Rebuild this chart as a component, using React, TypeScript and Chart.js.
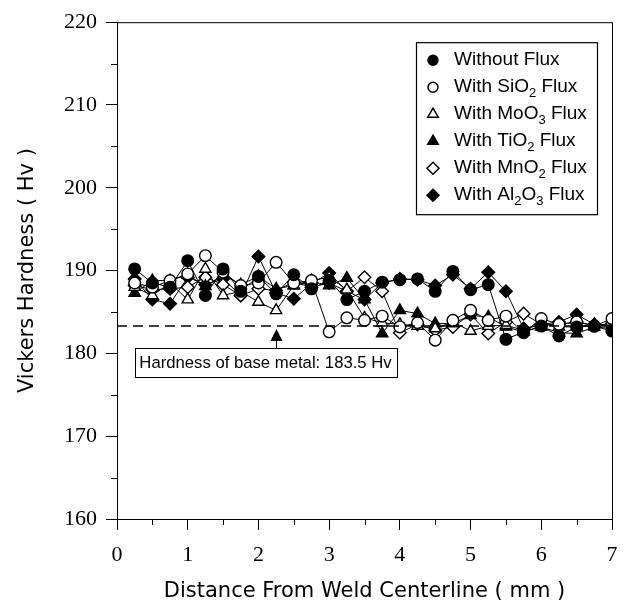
import React, { useEffect, useRef } from 'react';
import { Chart, registerables } from 'chart.js';
Chart.register(...registerables);

const distances = [0.25, 0.5, 0.75, 1, 1.25, 1.5, 1.75, 2, 2.25, 2.5, 2.75, 3, 3.25, 3.5, 3.75, 4, 4.25, 4.5, 4.75, 5, 5.25, 5.5, 5.75, 6, 6.25, 6.5, 6.75, 7];
const withoutFlux = [190.2, 188.5, 188.0, 191.2, 187.0, 190.2, 187.5, 189.3, 187.2, 189.5, 187.8, 188.8, 186.5, 187.5, 188.6, 188.9, 189.0, 187.5, 189.9, 187.7, 188.3, 181.7, 182.6, 183.3, 182.1, 183.2, 183.3, 182.7];
const withSiO2 = [188.5, 188.0, 188.8, 189.6, 191.8, 189.8, 188.2, 188.5, 191.0, 188.5, 188.8, 182.6, 184.3, 184.0, 184.5, 183.2, 183.7, 181.6, 184.0, 185.2, 184.0, 184.5, 182.5, 184.2, 183.5, 183.8, 183.3, 184.2];
const withMoO3 = [188.0, 187.0, 188.5, 186.5, 190.2, 187.0, 187.5, 186.2, 185.2, 188.2, 188.8, 189.2, 187.7, 184.3, 183.7, 183.5, 183.3, 183.0, 183.8, 182.7, 183.3, 183.4, 182.8, 183.6, 183.2, 183.2, 183.5, 183.3];
const withTiO2 = [187.3, 188.8, 188.8, 189.5, 188.1, 189.5, 188.3, 189.3, 187.8, 188.2, 188.7, 188.2, 189.1, 186.5, 182.4, 185.2, 184.8, 183.6, 183.6, 184.6, 184.4, 183.2, 182.6, 183.2, 182.5, 182.4, 183.2, 183.0];
const withMnO2 = [188.2, 187.7, 187.8, 188.0, 189.2, 188.3, 187.0, 187.8, 187.6, 188.6, 188.0, 188.5, 187.5, 189.2, 187.5, 182.5, 183.5, 182.8, 183.2, 184.7, 182.4, 183.8, 184.8, 183.5, 183.5, 183.8, 183.4, 183.6];
const withAl2O3 = [189.0, 186.5, 186.0, 189.2, 188.3, 189.0, 187.0, 191.7, 187.3, 186.6, 188.4, 189.7, 187.5, 186.5, 188.5, 189.0, 188.9, 188.2, 189.5, 187.8, 189.8, 187.5, 183.0, 183.5, 183.8, 184.7, 183.5, 183.3];

const baseHardness = 183.3;
const annotationText = 'Hardness of base metal: 183.5 Hv';
const arrowX = 2.25;

const xTitle = 'Distance From Weld Centerline ( mm )';
const yTitle = 'Vickers Hardness ( Hv )';

const xMinorTicks = [0.5, 1.5, 2.5, 3.5, 4.5, 5.5, 6.5];
const yMinorTicks = [165, 175, 185, 195, 205, 215];

type Part = [string, boolean];
const legendLabels: Part[][] = [
  [['Without Flux', false]],
  [['With SiO', false], ['2', true], [' Flux', false]],
  [['With MoO', false], ['3', true], [' Flux', false]],
  [['With TiO', false], ['2', true], [' Flux', false]],
  [['With MnO', false], ['2', true], [' Flux', false]],
  [['With Al', false], ['2', true], ['O', false], ['3', true], [' Flux', false]],
];

const seriesDefs = [
  { values: withoutFlux, style: 'circle', filled: true, radius: 5.8 },
  { values: withSiO2, style: 'circle', filled: false, radius: 5.8 },
  { values: withMoO3, style: 'triangle', filled: false, radius: 6.5 },
  { values: withTiO2, style: 'triangle', filled: true, radius: 6.5 },
  { values: withMnO2, style: 'rectRot', filled: false, radius: 6.3 },
  { values: withAl2O3, style: 'rectRot', filled: true, radius: 6.3 },
];

const SANS = '"Liberation Sans", Arial, sans-serif';

function drawMarker(ctx: CanvasRenderingContext2D, style: string, filled: boolean, x: number, y: number, r: number) {
  ctx.save();
  ctx.beginPath();
  if (style === 'circle') {
    ctx.arc(x, y, r, 0, Math.PI * 2);
  } else if (style === 'triangle') {
    ctx.moveTo(x, y - r);
    ctx.lineTo(x + r * 0.87, y + r * 0.5);
    ctx.lineTo(x - r * 0.87, y + r * 0.5);
    ctx.closePath();
  } else {
    ctx.moveTo(x, y - r);
    ctx.lineTo(x + r, y);
    ctx.lineTo(x, y + r);
    ctx.lineTo(x - r, y);
    ctx.closePath();
  }
  ctx.fillStyle = filled ? '#000' : '#fff';
  ctx.fill();
  ctx.lineWidth = 1.5;
  ctx.strokeStyle = '#000';
  ctx.stroke();
  ctx.restore();
}

const overlayPlugin = {
  id: 'overlay',
  afterDraw(chart: any) {
    const { ctx, chartArea, scales } = chart;
    const xs = scales.x;
    const ys = scales.y;
    ctx.save();
    // frame
    ctx.strokeStyle = '#000';
    ctx.lineWidth = 1;
    ctx.strokeRect(chartArea.left + 0.5, chartArea.top + 0.5, chartArea.right - chartArea.left, chartArea.bottom - chartArea.top);

    // minor ticks
    ctx.beginPath();
    xMinorTicks.forEach((v) => {
      const px = Math.round(xs.getPixelForValue(v)) + 0.5;
      ctx.moveTo(px, chartArea.bottom);
      ctx.lineTo(px, chartArea.bottom + 6);
    });
    yMinorTicks.forEach((v) => {
      const py = Math.round(ys.getPixelForValue(v)) + 0.5;
      ctx.moveTo(chartArea.left, py);
      ctx.lineTo(chartArea.left - 6, py);
    });
    ctx.stroke();

    // dashed base line
    const yb = ys.getPixelForValue(baseHardness);
    ctx.setLineDash([10, 6]);
    ctx.lineWidth = 1.5;
    ctx.beginPath();
    ctx.moveTo(xs.getPixelForValue(0), yb);
    ctx.lineTo(xs.getPixelForValue(7), yb);
    ctx.stroke();
    ctx.setLineDash([]);

    // annotation box
    const bx1 = xs.getPixelForValue(0.25);
    const bx2 = xs.getPixelForValue(3.95);
    const by1 = ys.getPixelForValue(180.65);
    const by2 = ys.getPixelForValue(177.2);
    ctx.fillStyle = '#fff';
    ctx.fillRect(bx1, by1, bx2 - bx1, by2 - by1);
    ctx.lineWidth = 1;
    ctx.strokeRect(Math.round(bx1) + 0.5, Math.round(by1) + 0.5, Math.round(bx2 - bx1), Math.round(by2 - by1));
    ctx.fillStyle = '#000';
    ctx.font = `16.7px ${SANS}`;
    ctx.textAlign = 'center';
    ctx.textBaseline = 'middle';
    ctx.fillText(annotationText, (bx1 + bx2) / 2, (by1 + by2) / 2 + 1);

    // arrow
    const ax = Math.round(xs.getPixelForValue(arrowX)) + 0.5;
    const tip = yb + 3;
    ctx.beginPath();
    ctx.moveTo(ax, by1);
    ctx.lineTo(ax, tip + 10);
    ctx.lineWidth = 1;
    ctx.stroke();
    ctx.beginPath();
    ctx.moveTo(ax, tip);
    ctx.lineTo(ax + 6, tip + 12);
    ctx.lineTo(ax - 6, tip + 12);
    ctx.closePath();
    ctx.fill();

    // legend
    const lx1 = chartArea.left + 299;
    const ly1 = chartArea.top + 20;
    const lw = 181;
    const lh = 172;
    ctx.fillStyle = '#fff';
    ctx.fillRect(lx1, ly1, lw, lh);
    ctx.strokeStyle = '#000';
    ctx.lineWidth = 1.2;
    ctx.strokeRect(lx1 + 0.5, ly1 + 0.5, lw, lh);
    const rowH = 27;
    legendLabels.forEach((parts, i) => {
      const cy = ly1 + 18 + i * rowH;
      const d = seriesDefs[i];
      drawMarker(ctx, d.style, d.filled, lx1 + 17, cy, d.style === 'circle' ? 5 : 6);
      let cx = lx1 + 38;
      ctx.fillStyle = '#000';
      ctx.textAlign = 'left';
      ctx.textBaseline = 'middle';
      parts.forEach(([t, sub]) => {
        ctx.font = sub ? `13px ${SANS}` : `19px ${SANS}`;
        ctx.fillText(t, cx, sub ? cy + 6 : cy);
        cx += ctx.measureText(t).width;
      });
    });
    ctx.restore();
  },
};

export default function App() {
  const ref = useRef<HTMLCanvasElement>(null);
  useEffect(() => {
    if (!ref.current) return;
    const datasets = seriesDefs.map((d, i) => ({
      label: 'series' + i,
      data: distances.map((x, j) => ({ x, y: d.values[j] })),
      borderColor: '#000',
      borderWidth: 1,
      pointStyle: d.style,
      pointRadius: d.radius,
      pointBackgroundColor: d.filled ? '#000' : '#fff',
      pointBorderColor: '#000',
      pointBorderWidth: 1.4,
      fill: false,
      tension: 0,
    }));
    const majorColor = (c: any) => {
      const v = c.tick ? c.tick.value : 0;
      return c.scale.axis === 'x'
        ? (Number.isInteger(v) ? '#000' : 'rgba(0,0,0,0)')
        : (v % 10 === 0 ? '#000' : 'rgba(0,0,0,0)');
    };
    const chart = new Chart(ref.current, {
      type: 'line',
      data: { datasets },
      options: {
        animation: false,
        responsive: false,
        layout: { padding: { top: 19, right: 20, left: 0, bottom: 0 } },
        plugins: { legend: { display: false }, tooltip: { enabled: false } },
        scales: {
          x: {
            type: 'linear',
            min: 0,
            max: 7,
            afterFit: (s: any) => { s.height = 90; },
            border: { color: '#000', width: 1 },
            grid: { display: true, drawOnChartArea: false, drawTicks: true, tickLength: 11, color: majorColor },
            ticks: {
              stepSize: 0.5,
              autoSkip: false,
              maxRotation: 0,
              padding: 12,
              color: '#000',
              font: { family: '"Liberation Serif", "Times New Roman", serif', size: 22 },
              callback: (v: any) => (Number.isInteger(Number(v)) ? String(v) : ''),
            },
            title: {
              display: true,
              text: xTitle,
              color: '#000',
              font: { family: '"DejaVu Sans", sans-serif', size: 21 },
              padding: { top: 0, bottom: 5 },
            },
          },
          y: {
            type: 'linear',
            min: 160,
            max: 220,
            afterFit: (s: any) => { s.width = 117; },
            border: { color: '#000', width: 1 },
            grid: { display: true, drawOnChartArea: false, drawTicks: true, tickLength: 11, color: majorColor },
            ticks: {
              stepSize: 5,
              autoSkip: false,
              padding: 9,
              color: '#000',
              font: { family: '"Liberation Serif", "Times New Roman", serif', size: 22 },
              callback: (v: any) => (Number(v) % 10 === 0 ? String(v) : ''),
            },
            title: {
              display: true,
              text: yTitle,
              color: '#000',
              font: { family: '"DejaVu Sans", sans-serif', size: 21 },
              padding: { top: 15, bottom: 0 },
            },
          },
        },
      },
      plugins: [overlayPlugin],
    });
    return () => chart.destroy();
  }, []);
  return (
    <div style={{ position: 'absolute', left: 0, top: 0, width: 632, height: 609, background: '#fff' }}>
      <canvas ref={ref} width={632} height={609} />
    </div>
  );
}
